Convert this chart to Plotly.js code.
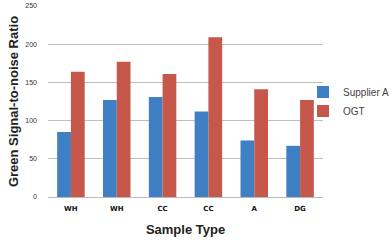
<!DOCTYPE html>
<html><head><meta charset="utf-8">
<script src="https://cdn.plot.ly/plotly-3.0.1.min.js"></script>
<style>html,body{margin:0;padding:0;background:#fff}#c{width:391px;height:242px}</style>
</head><body><div id="c"></div>
<script>
const categories = ["WH", "WH ", "CC", "CC ", "A", "DG"];
const supplierA = [85, 127, 131, 112, 74, 67];
const ogt = [164, 177, 161, 209, 141, 127];
const yTicks = [0, 50, 100, 150, 200, 250];

const data = [
  {type: "bar", name: "Supplier A", x: categories, y: supplierA, marker: {color: "#3f7fc3"}},
  {type: "bar", name: "OGT", x: categories, y: ogt, marker: {color: "#c5574b"}}
];
const layout = {
  width: 391, height: 242,
  margin: {l: 48, r: 68, t: 6, b: 45, autoexpand: false},
  paper_bgcolor: "#fff", plot_bgcolor: "#fff",
  barmode: "group", bargap: 0.4, bargroupgap: 0,
  font: {family: "Liberation Sans, Arial, sans-serif", color: "#222"},
  xaxis: {
    tickvals: categories, ticktext: categories.map(s => s.trim()),
    tickfont: {size: 7, family: "DejaVu Sans, sans-serif", color: "#111", weight: "bold"},
    showline: true, linecolor: "#bbb", linewidth: 1, ticks: "", ticklabelstandoff: 5,
    title: {text: "<b>Sample Type</b>", font: {size: 13, color: "#222"}, standoff: 12}
  },
  yaxis: {
    range: [0, 250], tickvals: yTicks, ticktext: yTicks.map(String),
    tickfont: {size: 7, color: "#333"}, gridcolor: "#bdbdbd", gridwidth: 1,
    zeroline: false, ticks: "", ticklabelstandoff: 10,
    title: {text: "<b>Green Signal-to-noise Ratio</b>", font: {size: 13, color: "#222"}, standoff: 3}
  },
  legend: {xref: "container", yref: "container", x: 0.775, y: 0.68, xanchor: "left", yanchor: "top",
           font: {size: 10, color: "#444"}, bgcolor: "rgba(0,0,0,0)"},
  showlegend: true
};
Plotly.newPlot("c", data, layout, {displayModeBar: false, staticPlot: true});
</script></body></html>
